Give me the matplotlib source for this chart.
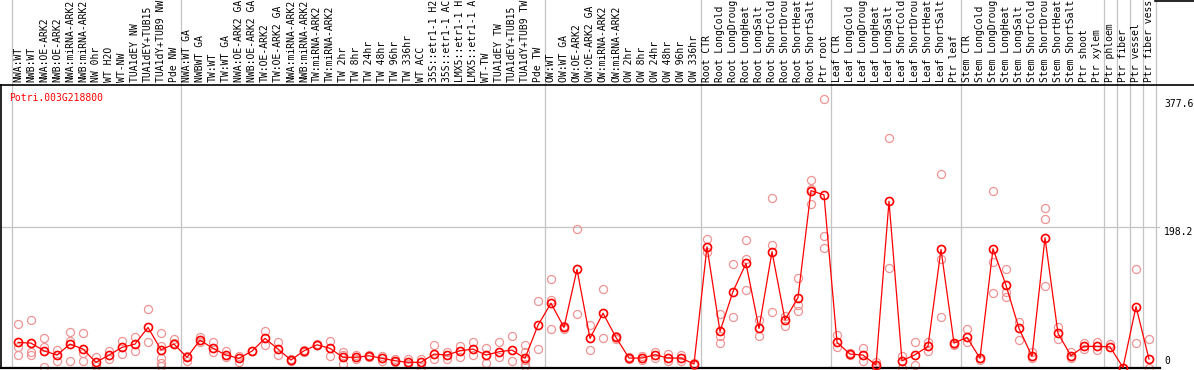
"""Expression profile of Potri.003G218800 across poplar samples (mean + replicates)."""
import matplotlib

matplotlib.use("Agg")
import matplotlib.pyplot as plt
from matplotlib.lines import Line2D

GENE = "Potri.003G218800"

samples = [
    "NWA:WT", "NWB:WT", "NWA:OE-ARK2", "NWB:OE-ARK2", "NWA:miRNA-ARK2",
    "NWB:miRNA-ARK2", "NW 0hr", "WT H2O", "WT-NW", "TUA1dEY NW",
    "TUA1dEY+TUB15", "TUA1dY+TUB9 NW", "Pde NW",
    "NWA:WT GA", "NWBWT GA", "TW:WT", "TW:WT GA", "NWA:OE-ARK2 GA",
    "NWB:OE-ARK2 GA", "TW:OE-ARK2", "TW:OE-ARK2 GA", "NWA:miRNA-ARK2",
    "NWB:miRNA-ARK2", "TW:miRNA-ARK2", "TW:miRNA-ARK2", "TW 2hr", "TW 8hr",
    "TW 24hr", "TW 48hr", "TW 96hr", "TW 336hr", "WT ACC", "35S::etr1-1 H2",
    "35S::etr1-1 AC", "LMX5::etr1-1 H", "LMX5::etr1-1 A", "WT-TW",
    "TUA1dEY TW", "TUA1dEY+TUB15", "TUA1dY+TUB9 TW", "Pde TW",
    "OW:WT", "OW:WT GA", "OW:OE-ARK2", "OW:OE-ARK2 GA", "OW:miRNA-ARK2",
    "OW:miRNA-ARK2", "OW 2hr", "OW 8hr", "OW 24hr", "OW 48hr", "OW 96hr",
    "OW 336hr",
    "Root CTR", "Root LongCold", "Root LongDroug", "Root LongHeat",
    "Root LongSalt", "Root ShortCold", "Root ShortDrou", "Root ShortHeat",
    "Root ShortSalt", "Ptr root",
    "Leaf CTR", "Leaf LongCold", "Leaf LongDroug", "Leaf LongHeat",
    "Leaf LongSalt", "Leaf ShortCold", "Leaf ShortDrou", "Leaf ShortHeat",
    "Leaf ShortSalt", "Ptr leaf",
    "Stem CTR", "Stem LongCold", "Stem LongDroug", "Stem LongHeat",
    "Stem LongSalt", "Stem ShortCold", "Stem ShortDrou", "Stem ShortHeat",
    "Stem ShortSalt", "Ptr shoot", "Ptr xylem",
    "Ptr phloem", "Ptr fiber", "Ptr vessel", "Ptr fiber vess",
]

# first sample index of each group (last entry closes the final group)
group_starts = [0, 13, 41, 53, 63, 73, 84, 85, 86, 87, 88]

means = [
    35.3, 34.3, 23.5, 17.5, 32.9, 25.9, 7.3, 17.5, 28.3, 32.9,
    56.3, 24.9, 32.9, 14.3, 38.5, 26.9, 17.5, 12.9, 23.1, 40.9,
    25.9, 10.5, 23.5, 31.9, 26.9, 14.3, 14.3, 16.5, 12.9, 9.5,
    7.3, 7.3, 18.9, 17.5, 23.5, 25.9, 17.5, 22.1, 24.5, 12.9,
    59.5, 90.4, 56.3, 138.0, 40.9, 76.4, 42.3, 13.3, 13.3, 17.9,
    13.3, 13.3, 4.9, 169.8, 50.7, 106.8, 146.4, 54.9, 162.8, 67.0,
    98.4, 248.7, 242.7, 35.3, 18.9, 17.5, 3.5, 233.7, 9.5, 17.9,
    29.7, 166.0, 34.3, 42.3, 12.9, 167.0, 115.6, 54.9, 15.7, 182.4,
    47.9, 16.5, 29.7, 29.7, 29.1, 0.0, 85.7, 11.9,
]

replicates = [
    [60.9, 28.7, 17.5], [66.5, 21.7, 17.5], [40.9, 28.7, 0.7], [24.9, 9.5],
    [49.3, 37.5, 9.5], [48.3, 20.3, 9.5], [14.7, 2.1], [23.5, 11.9],
    [37.5, 18.9], [42.3, 23.5], [82.9, 36.1], [48.3, 30.5, 12.9, 6.3, 2.1],
    [39.9, 34.3], [9.5, 16.0], [42.3, 35.3], [35.3, 21.3], [23.5, 14.3],
    [16.5, 8.1], [23.5, 22.5], [51.6, 31.5], [35.3, 17.5], [9.0, 12.0],
    [22.0, 25.0], [31.0, 33.0], [36.7, 15.7], [21.3, 17.5, 4.9],
    [17.5, 11.9], [17.5, 14.7], [9.5, 16.1], [7.3, 11.9], [11.9, 4.9],
    [11.9, 0.7], [31.5, 11.9], [21.3, 11.9], [30.5, 14.3], [36.1, 17.5],
    [26.9, 6.3], [35.3, 14.3], [44.6, 9.5], [31.5, 21.7, 10.5, 4.9, 2.1],
    [92.8, 25.9], [124.0, 94.6, 53.9], [54.0, 58.0], [195.0, 75.9],
    [59.5, 24.5], [110.0, 40.9], [40.0, 44.0], [12.0, 15.0], [11.0, 16.0],
    [22.1, 12.9], [18.9, 9.5], [17.9, 9.5], [3.0, 6.0], [180.0, 162.2],
    [75.0, 43.7, 33.9], [145.0, 71.7], [178.6, 152.0, 108.6], [67.0, 44.6],
    [238.5, 171.6, 78.7], [72.6, 58.6], [126.4, 87.6, 79.6],
    [264.1, 251.5, 230.1], [377.6, 184.2, 167.4], [45.5, 28.3],
    [17.0, 21.0], [27.3, 9.5], [8.1, 0.7], [322.5, 140.4], [16.5, 0.0],
    [36.1, 3.5], [35.3, 23.5], [272.5, 152.0, 71.7], [31.5, 33.0],
    [53.9, 35.3], [11.0, 14.0], [248.7, 148.8, 105.4], [139.0, 106.2, 99.8],
    [64.2, 39.0], [21.3, 12.9], [224.5, 209.0, 114.6], [56.3, 39.9],
    [21.3, 12.9], [34.3, 25.9], [35.3, 24.9], [32.9], [0.0],
    [138.0, 34.3], [39.9, 0.0],
]

y_ticks = [377.6, 198.2, 0]

W, H = 1194, 370
HEADER = 85        # px, header height
PLOT_RIGHT = 1160  # px
X0, DX = 18, 13    # px position of first sample and spacing

RED = "#ff0000"
PINK = "#ee9494"
GREY = "#c4c4c4"
FONT = "DejaVu Sans Mono"

fig = plt.figure(figsize=(W / 100, H / 100), dpi=100)
xlim = ((1 - X0) / DX, (PLOT_RIGHT - X0) / DX)
ax_w = (PLOT_RIGHT - 1) / W

ax = fig.add_axes([1 / W, 2 / H, ax_w, (H - HEADER - 2) / H])
hd = fig.add_axes([1 / W, (H - HEADER) / H, ax_w, HEADER / H])

# main plot: replicates, mean line, mean markers
x = list(range(len(samples)))
rx = [i for i, r in enumerate(replicates) for _ in r]
ry = [v for r in replicates for v in r]
ax.plot(rx, ry, "o", ms=5.8, mfc="none", mec=PINK, mew=0.9, clip_on=False, zorder=2)
ax.plot(x, means, "-", color=RED, lw=0.9, zorder=3, clip_on=False)
ax.plot(x, means, "o", ms=5.8, mfc="none", mec=RED, mew=1.2, zorder=4, clip_on=False)

ax.set_xlim(*xlim)
ax.set_ylim(-0.7, 397.2)
ax.axhline(y_ticks[1], color=GREY, lw=0.9, zorder=1)
for g in group_starts:
    ax.axvline(g - 0.5, color=GREY, lw=0.9, zorder=1)
    hd.axvline(g - 0.5, color=GREY, lw=0.9, zorder=1)

for s in ("top", "right"):
    ax.spines[s].set_visible(False)
ax.spines["left"].set_linewidth(1.2)
ax.spines["bottom"].set_linewidth(1.6)
ax.set_xticks([])
ax.set_yticks([])

ax.text(8 / (PLOT_RIGHT - 1), 0.955, GENE, transform=ax.transAxes, color=RED,
        fontsize=7, family=FONT, ha="left", va="center")

# value labels right of the plot
ytr = ax.get_yaxis_transform()
lx = (1164 - 1) / (PLOT_RIGHT - 1)
ax.text(lx, y_ticks[0], f"{y_ticks[0]:.1f}", transform=ytr,
        fontsize=7, family=FONT, ha="left", va="top")
ax.text(lx, y_ticks[1], f"{y_ticks[1]:.1f}", transform=ytr,
        fontsize=7, family=FONT, ha="left", va="top")
ax.text(lx, 1.5, f"{y_ticks[2]}", transform=ytr,
        fontsize=7, family=FONT, ha="left", va="bottom")

# header with rotated sample names
hd.set_xlim(*xlim)
hd.set_ylim(0, HEADER)
hd.axis("off")
for i, name in enumerate(samples):
    hd.text(i, 3, name, rotation=90, ha="center", va="bottom",
            fontsize=7, family=FONT)

fig.add_artist(Line2D([0, 1], [1 - HEADER / H] * 2, color="black", lw=1.2,
                      transform=fig.transFigure))
fig.add_artist(Line2D([1155 / W, 1], [1 - 0.5 / H] * 2, color="black", lw=1.2,
                      transform=fig.transFigure))

fig.savefig("out.png", dpi=100)
